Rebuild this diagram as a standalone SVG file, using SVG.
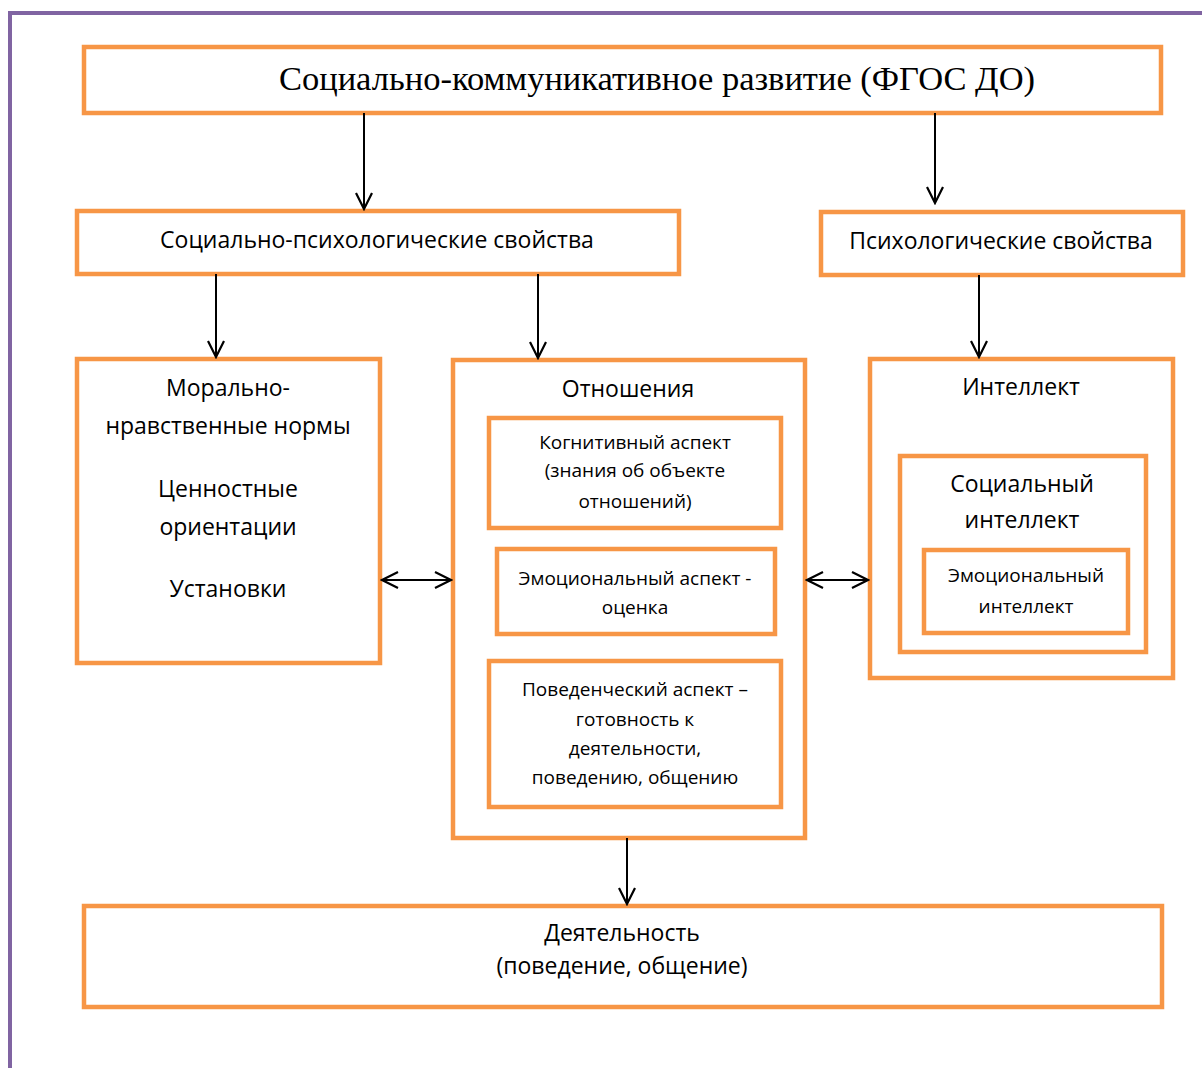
<svg xmlns="http://www.w3.org/2000/svg" width="1202" height="1068" viewBox="0 0 1202 1068">
<defs>
<marker id="ah" viewBox="0 0 20 20" refX="18" refY="10" markerWidth="20" markerHeight="20" markerUnits="userSpaceOnUse" orient="auto-start-reverse">
<path d="M2,2 L18,10 L2,18" fill="none" stroke="#000" stroke-width="2.2"/>
</marker>
<style>
.box{fill:#fff;stroke:#F79646;stroke-width:4.5}
.t{font-family:"Open Sans","DejaVu Sans",sans-serif;font-size:23px;fill:#000;text-anchor:middle}
.s{font-family:"Open Sans","DejaVu Sans",sans-serif;font-size:19px;fill:#000;text-anchor:middle}
.c{stroke:#000;stroke-width:2;fill:none;marker-end:url(#ah)}
.d{stroke:#000;stroke-width:2;fill:none;marker-end:url(#ah);marker-start:url(#ah)}
</style>
</defs>
<rect width="1202" height="1068" fill="#fff"/>
<path d="M10,1068 V13 H1202" fill="none" stroke="#8064A2" stroke-width="4"/>
<g id="top"><rect class="box" x="84" y="47" width="1077" height="66"/>
<text x="657" y="90" style="font-family:'Liberation Serif',serif;font-size:34.5px;text-anchor:middle">Социально-коммуникативное развитие (ФГОС ДО)</text></g>
<g id="socpsy"><rect class="box" x="77" y="211" width="602" height="63"/>
<text class="t" x="377" y="248">Социально-психологические свойства</text></g>
<g id="psy"><rect class="box" x="821" y="212" width="362" height="63"/>
<text class="t" x="1001" y="249">Психологические свойства</text></g>
<g id="moral"><rect class="box" x="77" y="359" width="303" height="304"/>
<text class="t" x="228" y="396">Морально-</text>
<text class="t" x="228" y="434">нравственные нормы</text>
<text class="t" x="228" y="497">Ценностные</text>
<text class="t" x="228" y="535">ориентации</text>
<text class="t" x="228" y="597">Установки</text></g>
<g id="rel"><rect class="box" x="453" y="360" width="352" height="478"/>
<text class="t" x="628" y="397">Отношения</text></g>
<g id="cog"><rect class="box" x="489" y="418" width="292" height="110"/>
<text class="s" x="635" y="449">Когнитивный аспект</text>
<text class="s" x="635" y="477">(знания об объекте</text>
<text class="s" x="635" y="508">отношений)</text></g>
<g id="emo"><rect class="box" x="497" y="549" width="278" height="85"/>
<text class="s" x="635" y="585">Эмоциональный аспект -</text>
<text class="s" x="635" y="614">оценка</text></g>
<g id="beh"><rect class="box" x="489" y="661" width="292" height="146"/>
<text class="s" x="635" y="696">Поведенческий аспект –</text>
<text class="s" x="635" y="726">готовность к</text>
<text class="s" x="635" y="755">деятельности,</text>
<text class="s" x="635" y="784">поведению, общению</text></g>
<g id="intel"><rect class="box" x="870" y="359" width="303" height="319"/>
<text class="t" x="1021" y="395">Интеллект</text></g>
<g id="socint"><rect class="box" x="900" y="456" width="246" height="196"/>
<text class="t" x="1022" y="492">Социальный</text>
<text class="t" x="1022" y="528">интеллект</text></g>
<g id="emoint"><rect class="box" x="924" y="550" width="204" height="83"/>
<text class="s" x="1026" y="582">Эмоциональный</text>
<text class="s" x="1026" y="613">интеллект</text></g>
<g id="act"><rect class="box" x="84" y="906" width="1078" height="101"/>
<text class="t" x="622" y="941">Деятельность</text>
<text class="t" x="622" y="974">(поведение, общение)</text></g>
<g id="connectors">
<path class="c" d="M364,113 V209"/>
<path class="c" d="M935,113 V203"/>
<path class="c" d="M216,274 V357"/>
<path class="c" d="M538,274 V358"/>
<path class="c" d="M979,275 V357"/>
<path class="c" d="M627,838 V904"/>
<path class="d" d="M382,580 H451"/>
<path class="d" d="M807,580 H868"/>
</g>
</svg>
